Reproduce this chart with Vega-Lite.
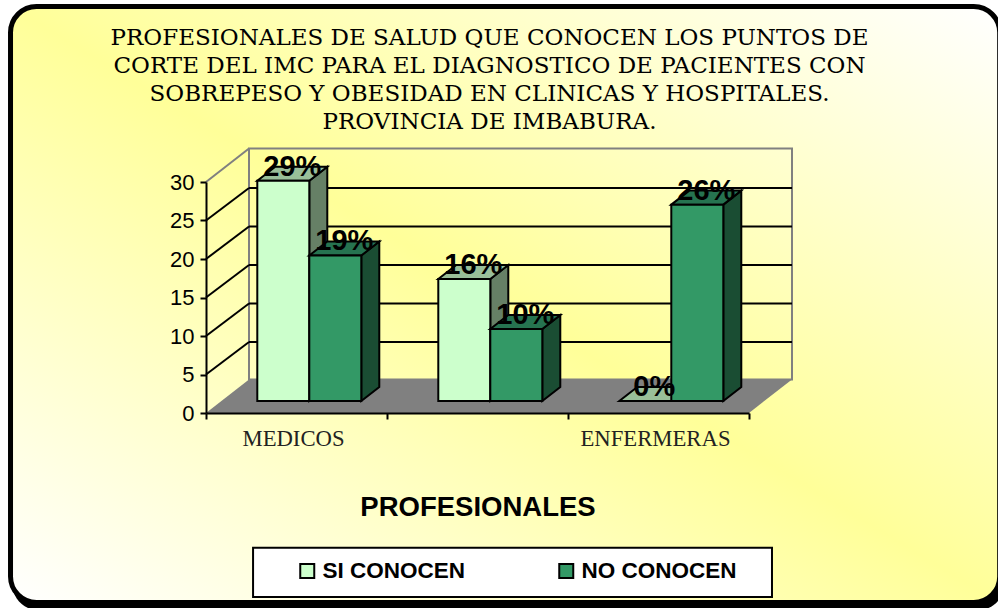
{
"$schema":"https://vega.github.io/schema/vega-lite/v6.json",
"width":543,"height":231,
"autosize":"none",
"padding":{"left":206,"top":182,"right":249,"bottom":195},
"background":"white",
"config":{"view":{"stroke":null}},
"title":{"text":["PROFESIONALES DE SALUD QUE CONOCEN LOS PUNTOS DE","CORTE DEL IMC PARA EL DIAGNOSTICO DE PACIENTES CON","SOBREPESO Y OBESIDAD EN CLINICAS Y HOSPITALES.","PROVINCIA DE IMBABURA."],"font":"DejaVu Serif","fontSize":23,"fontWeight":"normal","lineHeight":28,"color":"#000000","anchor":"middle","frame":"group","baseline":"top","dx":12,"offset":-130},
"datasets":{
"valores":[
{"profesional":"MEDICOS","grupo":0,"serie":"SI CONOCEN","valor":28.6,"etiqueta":"29%"},
{"profesional":"MEDICOS","grupo":0,"serie":"NO CONOCEN","valor":18.9,"etiqueta":"19%"},
{"profesional":"OTROS","grupo":1,"serie":"SI CONOCEN","valor":15.85,"etiqueta":"16%"},
{"profesional":"OTROS","grupo":1,"serie":"NO CONOCEN","valor":9.35,"etiqueta":"10%"},
{"profesional":"ENFERMERAS","grupo":2,"serie":"SI CONOCEN","valor":0,"etiqueta":"0%"},
{"profesional":"ENFERMERAS","grupo":2,"serie":"NO CONOCEN","valor":25.5,"etiqueta":"26%"}
],
"niveles":[{"nivel":0},{"nivel":5},{"nivel":10},{"nivel":15},{"nivel":20},{"nivel":25},{"nivel":30}]
},
"data":{"name":"valores"},
"transform":[
{"calculate":"datum.grupo+0.2834+(datum.serie==='SI CONOCEN'?0:0.2873)","as":"izq"},
{"calculate":"datum.izq+0.2873","as":"der"},
{"calculate":"datum.izq+0.1436","as":"centro"},
{"calculate":"datum.valor+1.56","as":"frente"}
],
"encoding":{
"x":{"type":"quantitative"},
"y":{"type":"quantitative","axis":{"values":[0,5,10,15,20,25,30],"tickCount":7}}
},
"layer":[
{"data":{"values":[{}]},"transform":[],
 "mark":{"type":"rect","cornerRadius":26,"fill":"#000000"},
 "encoding":{"x":{"datum":-1.07,"type":"quantitative","scale":{"domain":[0,3],"nice":false,"zero":false,"clamp":false},"axis":{"values":[0,1,2,3],"tickCount":4,"zindex":1,"grid":false,"domainColor":"#000000","domainWidth":2,"tickColor":"#000000","tickWidth":2,"tickSize":6,"labelFont":"Liberation Serif","labelFontSize":22.7,"labelColor":"#222222","labelPadding":8,"labelBaseline":"top","labelAlign":"center","labelOffset":87,"labelExpr":"datum.value===0?'MEDICOS':datum.value===2?'ENFERMERAS':''","labelFlush":false,"labelOverlap":false,"title":"PROFESIONALES","titleFont":"Liberation Sans","titleFontSize":27.5,"titleFontWeight":"bold","titleColor":"#000000","titleY":102,"titleBaseline":"alphabetic"}},
  "x2":{"datum":4.41},
  "y":{"datum":52.3,"type":"quantitative","scale":{"domain":[0,30],"nice":false,"zero":false},"axis":{"values":[0,5,10,15,20,25,30],"tickCount":7,"zindex":1,"grid":false,"title":null,"domainColor":"#000000","domainWidth":2,"tickColor":"#000000","tickWidth":2,"tickSize":6,"labelFont":"Liberation Sans","labelFontSize":22,"labelColor":"#000000","labelPadding":6,"labelOverlap":false}},
  "y2":{"datum":-25.6}}},
{"data":{"values":[{}]},"transform":[],
 "mark":{"type":"rect","cornerRadius":26,"stroke":"#000000","strokeWidth":5,"fill":{"gradient":"linear","x1":0,"y1":1,"x2":1,"y2":0,"stops":[{"offset":0,"color":"#FFFFFF"},{"offset":0.5,"color":"#FFFF99"},{"offset":1,"color":"#FFFFFF"}]}},
 "encoding":{"x":{"datum":-1.08},"x2":{"datum":4.385},"y":{"datum":52.79},"y2":{"datum":-24.6}}},
{"data":{"values":[{}]},"transform":[],
 "mark":{"type":"rect","fill":"#FFFFFF","stroke":"#000000","strokeWidth":2},
 "encoding":{"x":{"datum":0.26},"x2":{"datum":3.127},"y":{"datum":-17.5},"y2":{"datum":-23.9}}},
{"data":{"values":[{"k":"a","x":0,"y":0,"y2":0},{"k":"a","x":0.2376,"y":4.36,"y2":0},{"k":"a","x":3,"y":4.36,"y2":0},{"k":"a","x":3.2376,"y":4.36,"y2":4.36}]},"transform":[],
 "mark":{"type":"area","fill":"#808080"},
 "encoding":{"x":{"field":"x","type":"quantitative"},"y":{"field":"y","type":"quantitative"},"y2":{"field":"y2"}}},
{"data":{"values":[{}]},"transform":[],
 "mark":{"type":"rect","fill":null,"stroke":"#808080","strokeWidth":2},
 "encoding":{"x":{"datum":0.2376},"x2":{"datum":3.2376},"y":{"datum":4.36},"y2":{"datum":34.36}}},
{"data":{"name":"niveles"},"transform":[{"filter":"datum.nivel>0 && datum.nivel<30"}],
 "mark":{"type":"rule","color":"#000000","strokeWidth":2,"yOffset":-32.5,"y2Offset":-32.5},
 "encoding":{"x":{"datum":0.2376},"x2":{"datum":3.2376},"y":{"field":"nivel","type":"quantitative"},"y2":{"field":"nivel"}}},
{"data":{"name":"niveles"},"transform":[{"filter":"datum.nivel<30 && datum.nivel>0"}],
 "mark":{"type":"rule","color":"#000000","strokeWidth":2,"y2Offset":-32.5},
 "encoding":{"x":{"datum":0},"x2":{"datum":0.2376},"y":{"field":"nivel","type":"quantitative"},"y2":{"field":"nivel"}}},
{"data":{"name":"niveles"},"transform":[{"filter":"datum.nivel===30"}],
 "mark":{"type":"rule","color":"#808080","strokeWidth":2,"y2Offset":-33.5},
 "encoding":{"x":{"datum":0},"x2":{"datum":0.2376},"y":{"field":"nivel","type":"quantitative"},"y2":{"field":"nivel"}}},
{"transform":[{"filter":"datum.serie==='SI CONOCEN'"},{"calculate":"[0,1]","as":"k"},{"flatten":["k"]},{"calculate":"datum.der+datum.k*0.0994","as":"px"},{"calculate":"datum.frente+datum.k*1.82","as":"py"},{"calculate":"1.56+datum.k*1.82","as":"py2"}],
 "mark":{"type":"area","fill":"#668066","stroke":"#000000","strokeWidth":2},
 "encoding":{"detail":{"field":"profesional"},"x":{"field":"px","type":"quantitative"},"y":{"field":"py","type":"quantitative"},"y2":{"field":"py2"}}},
{"transform":[{"filter":"datum.serie==='SI CONOCEN'"},{"calculate":"[0,1,2,3]","as":"k"},{"flatten":["k"]},{"calculate":"datum.k===0?datum.izq:datum.k===1?datum.izq+0.0994:datum.k===2?datum.der:datum.der+0.0994","as":"px"},{"calculate":"datum.frente+(datum.k===0?0:1.82)","as":"py"},{"calculate":"datum.frente+(datum.k===3?1.82:0)","as":"py2"}],
 "mark":{"type":"area","fill":"#99BF99","stroke":"#000000","strokeWidth":2},
 "encoding":{"detail":{"field":"profesional"},"x":{"field":"px","type":"quantitative"},"y":{"field":"py","type":"quantitative"},"y2":{"field":"py2"}}},
{"transform":[{"filter":"datum.serie==='SI CONOCEN'"}],
 "mark":{"type":"rect","stroke":"#000000","strokeWidth":2,"yOffset":-12,"y2Offset":-12},
 "encoding":{"x":{"field":"izq","type":"quantitative"},"x2":{"field":"der"},"y":{"field":"valor","type":"quantitative"},"y2":{"datum":0},
  "fill":{"field":"serie","type":"nominal","scale":{"domain":["SI CONOCEN","NO CONOCEN"],"range":["#CCFFCC","#339966"]},"sort":null,
   "legend":{"orient":"none","legendX":90,"legendY":377.5,"direction":"horizontal","columns":2,"title":null,"padding":0,"symbolType":"square","symbolSize":196,"symbolStrokeColor":"#000000","symbolStrokeWidth":2,"labelFont":"Liberation Sans","labelFontSize":22.5,"labelFontWeight":"bold","labelColor":"#000000","labelOffset":4,"columnPadding":89,"labelLimit":300}}}},
{"transform":[{"filter":"datum.serie==='NO CONOCEN'"},{"calculate":"[0,1]","as":"k"},{"flatten":["k"]},{"calculate":"datum.der+datum.k*0.0994","as":"px"},{"calculate":"datum.frente+datum.k*1.82","as":"py"},{"calculate":"1.56+datum.k*1.82","as":"py2"}],
 "mark":{"type":"area","fill":"#1A4D33","stroke":"#000000","strokeWidth":2},
 "encoding":{"detail":{"field":"profesional"},"x":{"field":"px","type":"quantitative"},"y":{"field":"py","type":"quantitative"},"y2":{"field":"py2"}}},
{"transform":[{"filter":"datum.serie==='NO CONOCEN'"},{"calculate":"[0,1,2,3]","as":"k"},{"flatten":["k"]},{"calculate":"datum.k===0?datum.izq:datum.k===1?datum.izq+0.0994:datum.k===2?datum.der:datum.der+0.0994","as":"px"},{"calculate":"datum.frente+(datum.k===0?0:1.82)","as":"py"},{"calculate":"datum.frente+(datum.k===3?1.82:0)","as":"py2"}],
 "mark":{"type":"area","fill":"#267350","stroke":"#000000","strokeWidth":2},
 "encoding":{"detail":{"field":"profesional"},"x":{"field":"px","type":"quantitative"},"y":{"field":"py","type":"quantitative"},"y2":{"field":"py2"}}},
{"transform":[{"filter":"datum.serie==='NO CONOCEN'"}],
 "mark":{"type":"rect","stroke":"#000000","strokeWidth":2,"yOffset":-12,"y2Offset":-12},
 "encoding":{"x":{"field":"izq","type":"quantitative"},"x2":{"field":"der"},"y":{"field":"valor","type":"quantitative"},"y2":{"datum":0},
  "fill":{"field":"serie","type":"nominal","scale":{"domain":["SI CONOCEN","NO CONOCEN"],"range":["#CCFFCC","#339966"]}}}},
{"mark":{"type":"text","font":"Liberation Sans","fontSize":29,"fontWeight":"bold","color":"#000000","align":"center","baseline":"alphabetic","dx":9,"dy":-17},
 "encoding":{"x":{"field":"centro","type":"quantitative"},"y":{"field":"valor","type":"quantitative"},"text":{"field":"etiqueta"}}}
]
}
